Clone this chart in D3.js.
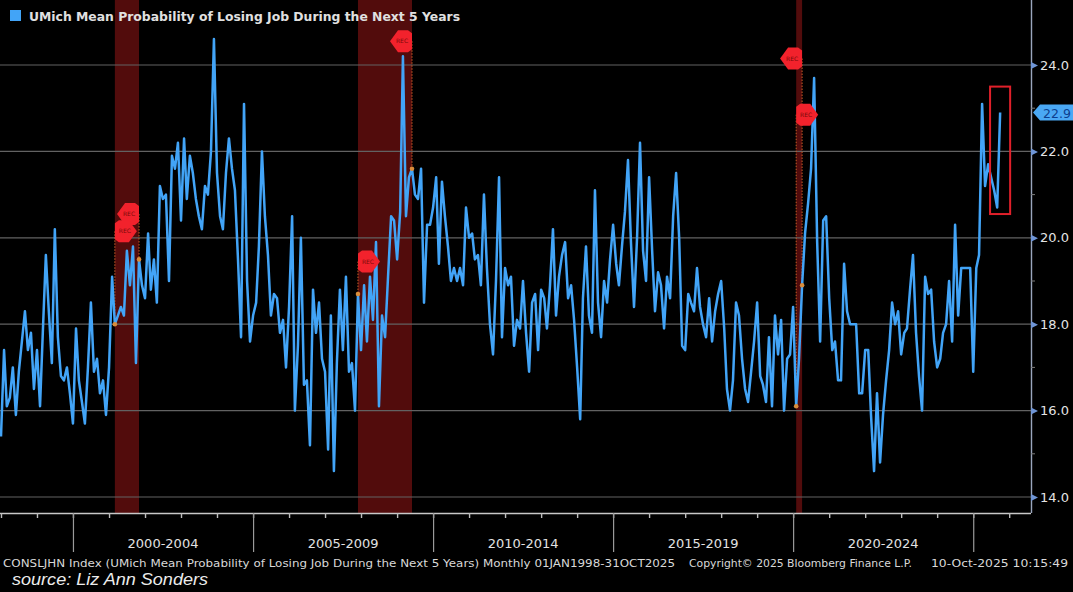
<!DOCTYPE html>
<html>
<head>
<meta charset="utf-8">
<script src="https://cdn.jsdelivr.net/npm/d3@7"></script>
<style>
  html, body { margin: 0; padding: 0; background: #000; }
  svg { display: block; }
</style>
</head>
<body>
<script>
// monthly series, Jan 1998 .. Oct 2025
var startMonth = new Date(1998, 0, 1);
var values = [
  15.4, 17.4, 16.1, 16.3, 17.0, 15.9, 16.9, 17.6, 18.3, 17.4, 17.8, 16.5, // 1998
  17.4, 16.1, 17.8, 19.6, 18.3, 17.1, 20.2, 17.7, 16.8, 16.7, 17.0, 16.4, // 1999
  15.7, 17.9, 16.7, 16.2, 15.7, 17.0, 18.5, 16.9, 17.2, 16.4, 16.7, 15.9, // 2000
  17.0, 19.1, 18.0, 18.2, 18.4, 18.2, 19.7, 18.9, 19.8, 17.1, 19.5, 18.9, // 2001
  18.6, 20.1, 18.8, 19.5, 18.5, 21.2, 20.9, 21.0, 19.0, 21.9, 21.6, 22.2, // 2002
  20.4, 22.3, 20.9, 21.9, 21.5, 20.9, 20.5, 20.2, 21.2, 21.0, 22.0, 24.6, // 2003
  21.5, 20.5, 20.2, 21.5, 22.3, 21.6, 21.1, 19.5, 17.7, 23.1, 19.0, 17.6, // 2004
  18.2, 18.5, 19.8, 22.0, 20.5, 19.6, 18.2, 18.7, 18.6, 17.8, 18.1, 17.0, // 2005
  18.4, 20.5, 16.0, 17.5, 20.0, 16.6, 16.7, 15.2, 18.8, 17.8, 18.5, 17.2, // 2006
  16.9, 15.1, 18.2, 14.6, 17.1, 18.8, 17.4, 19.1, 16.9, 17.1, 16.0, 18.7, // 2007
  17.4, 18.9, 17.6, 19.1, 18.1, 19.9, 16.1, 18.2, 17.7, 19.1, 20.5, 20.4, // 2008
  19.5, 20.6, 24.2, 20.5, 21.4, 21.6, 21.0, 20.9, 21.6, 18.5, 20.3, 20.3, // 2009
  20.7, 21.4, 19.4, 21.3, 20.5, 19.8, 19.0, 19.3, 19.0, 19.3, 18.9, 20.7, // 2010
  20.0, 20.1, 19.5, 19.6, 18.9, 21.0, 19.3, 18.0, 17.3, 19.0, 21.4, 17.7, // 2011
  19.3, 18.9, 19.1, 17.5, 18.1, 17.9, 19.0, 17.8, 16.9, 18.5, 18.7, 17.4, // 2012
  18.8, 18.6, 17.9, 18.9, 20.2, 18.2, 19.1, 19.6, 19.9, 18.6, 18.9, 18.1, // 2013
  17.0, 15.8, 18.6, 19.8, 18.2, 17.8, 21.1, 18.5, 17.7, 19.0, 18.5, 19.5, // 2014
  20.3, 19.4, 18.9, 19.8, 20.6, 21.8, 19.9, 18.4, 20.0, 22.2, 19.7, 19.0, // 2015
  21.4, 19.7, 18.3, 19.2, 18.9, 17.9, 19.1, 18.6, 20.5, 21.5, 20.0, 17.5, // 2016
  17.4, 18.7, 18.5, 18.3, 19.3, 18.4, 18.0, 17.7, 18.6, 17.6, 18.3, 18.7, // 2017
  19.0, 17.9, 16.5, 16.0, 16.7, 18.5, 18.2, 17.2, 16.5, 16.2, 16.9, 17.6, // 2018
  18.5, 16.8, 16.6, 16.2, 17.7, 16.1, 18.2, 17.3, 18.1, 16.0, 17.2, 17.3, // 2019
  18.4, 16.1, 17.2, 18.9, 20.1, 20.8, 21.6, 23.7, 19.9, 17.6, 20.4, 20.5, // 2020
  18.6, 17.4, 17.6, 16.7, 16.7, 19.4, 18.3, 18.0, 18.0, 18.0, 16.4, 16.4, // 2021
  17.4, 17.4, 15.9, 14.6, 16.4, 14.8, 15.9, 16.7, 17.4, 18.5, 18.0, 18.3, // 2022
  17.3, 17.8, 17.9, 18.8, 19.6, 17.8, 16.8, 16.0, 19.1, 18.7, 18.8, 17.6, // 2023
  17.0, 17.2, 17.8, 18.0, 19.0, 17.6, 20.3, 18.2, 19.3, 19.3, 19.3, 19.3, // 2024
  16.9, 19.3, 19.6, 23.1, 21.2, 21.7, 21.4, 21.1, 20.7, 22.9              // 2025
];

var yTicks = [14, 16, 18, 20, 22, 24];
var yMinor = [15, 17, 19, 21, 23];
var periodStarts = [2000, 2005, 2010, 2015, 2020, 2025];
var periodLabels = ["2000-2004", "2005-2009", "2010-2014", "2015-2019", "2020-2024"];

// NBER recessions [start, end]
var recStart = [new Date(2001, 2, 1), new Date(2007, 11, 1), new Date(2020, 1, 1)];
var recEnd   = [new Date(2001, 10, 1), new Date(2009, 5, 1), new Date(2020, 3, 1)];
// REC tags: date, level (in index units), direction
var recTagDate  = [new Date(2001, 10, 1), new Date(2001, 2, 1), new Date(2007, 11, 1), new Date(2009, 5, 1), new Date(2020, 3, 1), new Date(2020, 1, 1)];
var recTagLevel = [20.55, 20.15, 19.45, 24.55, 24.15, 22.85];
var recTagDir   = ["left", "right", "right", "left", "left", "right"];

var lastLabel = "22.9";

var W = 1073, H = 592;
var svg = d3.select("body").append("svg")
  .attr("width", W).attr("height", H)
  .style("background", "#000");

var dates = values.map(function(v, i) { return d3.timeMonth.offset(startMonth, i); });
var data = values.map(function(v, i) { return {date: dates[i], value: v}; });

var x = d3.scaleTime()
  .domain([new Date(1998, 0, 1), new Date(2026, 7, 10)])
  .range([1, 1031]);
var y = d3.scaleLinear().domain([14, 24]).range([497, 65]);

// recession bands
svg.selectAll("rect.rec")
  .data(recStart)
  .enter()
  .append("rect")
  .attr("class", "rec")
  .attr("x", function(d) { return x(d); })
  .attr("y", 0)
  .attr("width", function(d, i) { return Math.max(5, x(recEnd[i]) - x(d)); })
  .attr("height", 513)
  .attr("fill", "#520c0c");

// grid
svg.selectAll("line.grid")
  .data(yTicks)
  .enter()
  .append("line")
  .attr("class", "grid")
  .attr("x1", 0).attr("x2", 1031)
  .attr("y1", function(d) { return y(d); })
  .attr("y2", function(d) { return y(d); })
  .attr("stroke", "#626262")
  .attr("stroke-width", 1.2);

// dotted leader lines from tags to the series
var valueAt = function(dt) {
  var i = d3.bisector(function(d) { return d.date; }).left(data, dt);
  return data[Math.min(i, data.length - 1)].value;
};
svg.selectAll("line.lead")
  .data(recTagDate)
  .enter()
  .append("line")
  .attr("class", "lead")
  .attr("x1", function(d) { return x(d); })
  .attr("x2", function(d) { return x(d); })
  .attr("y1", function(d, i) { return y(recTagLevel[i]); })
  .attr("y2", function(d) { return y(valueAt(d)); })
  .attr("stroke", "#c9602a")
  .attr("stroke-width", 1)
  .attr("stroke-dasharray", "1.5,1.5");

// the series
var line = d3.line()
  .x(function(d) { return x(d.date); })
  .y(function(d) { return y(d.value); });

svg.append("path")
  .datum(data)
  .attr("d", line)
  .attr("fill", "none")
  .attr("stroke", "#42a4f7")
  .attr("stroke-width", 2.5)
  .attr("stroke-linejoin", "round");

// orange dots at recession start/end
svg.selectAll("circle.dot")
  .data(recTagDate)
  .enter()
  .append("circle")
  .attr("class", "dot")
  .attr("cx", function(d) { return x(d); })
  .attr("cy", function(d) { return y(valueAt(d)); })
  .attr("r", 2.3)
  .attr("fill", "#d98c3a");

// REC tags
var tag = svg.selectAll("g.tag")
  .data(recTagDate)
  .enter()
  .append("g")
  .attr("class", "tag")
  .attr("transform", function(d, i) { return "translate(" + x(d) + "," + y(recTagLevel[i]) + ")"; });

tag.append("path")
  .attr("d", function(d, i) {
    if (recTagDir[i] === "right") {
      return "M0,-8 L4,-11 L14,-11 L22,0 L14,11 L4,11 L0,8 Z";
    }
    return "M0,-8 L-4,-11 L-14,-11 L-22,0 L-14,11 L-4,11 L0,8 Z";
  })
  .attr("fill", "#f2222c");

tag.append("text")
  .attr("x", function(d, i) { return recTagDir[i] === "right" ? 10 : -10; })
  .attr("y", 2)
  .attr("text-anchor", "middle")
  .attr("font-family", "DejaVu Sans")
  .attr("font-size", 6)
  .attr("fill", "#7a0a0a")
  .text("REC");

// bottom axis: minor yearly ticks
var years = d3.range(1998, 2027).map(function(yr) { return new Date(yr, 0, 1); });
var xMinor = svg.append("g")
  .attr("transform", "translate(0,513)")
  .call(d3.axisBottom(x).tickValues(years).tickSize(5).tickSizeOuter(0).tickFormat(""));
xMinor.select(".domain").attr("stroke", "#c8c8c8").attr("stroke-width", 1.6)
  .attr("d", "M0,0.5H1031");
xMinor.selectAll(".tick line").attr("stroke", "#bdbdbd").attr("stroke-width", 1.4);

var majors = periodStarts.map(function(yr) { return new Date(yr, 0, 1); });
var xMajor = svg.append("g")
  .attr("transform", "translate(0,513)")
  .call(d3.axisBottom(x).tickValues(majors).tickSize(39).tickSizeOuter(0).tickFormat(""));
xMajor.select(".domain").remove();
xMajor.selectAll(".tick line").attr("stroke", "#9a9a9a").attr("stroke-width", 1.2);

svg.selectAll("text.period")
  .data(periodLabels)
  .enter()
  .append("text")
  .attr("class", "period")
  .attr("x", function(d, i) { return (x(majors[i]) + x(majors[i + 1])) / 2; })
  .attr("y", 548)
  .attr("text-anchor", "middle")
  .attr("font-family", "DejaVu Sans")
  .attr("font-size", 13)
  .attr("fill", "#e2e2e2")
  .text(function(d) { return d; });

// right axis
svg.append("line")
  .attr("x1", 1031.5).attr("x2", 1031.5)
  .attr("y1", 0).attr("y2", 513)
  .attr("stroke", "#9aa6bd")
  .attr("stroke-width", 1.4);

var yAxis = svg.append("g")
  .attr("transform", "translate(1031,0)")
  .call(d3.axisRight(y).tickValues(yTicks).tickSize(0).tickPadding(9)
    .tickFormat(d3.format(".1f")));
yAxis.select(".domain").remove();
yAxis.selectAll(".tick text")
  .attr("font-family", "DejaVu Sans")
  .attr("font-size", 13)
  .attr("fill", "#e4e4e4");
yAxis.selectAll(".tick").append("path")
  .attr("d", "M0,-3.5 L7,0 L0,3.5 Z")
  .attr("fill", "#6f95d6");

svg.selectAll("line.ymin")
  .data(yMinor)
  .enter()
  .append("line")
  .attr("class", "ymin")
  .attr("x1", 1031).attr("x2", 1035)
  .attr("y1", function(d) { return y(d); })
  .attr("y2", function(d) { return y(d); })
  .attr("stroke", "#7d7d7d")
  .attr("stroke-width", 1);

// last value badge
var lastVal = values[values.length - 1];
var badge = svg.append("g")
  .attr("transform", "translate(1033," + y(lastVal) + ")");
badge.append("path")
  .attr("d", "M0,0 L7,-8 L41,-8 L41,8 L7,8 Z")
  .attr("fill", "#4aa8f4");
badge.append("text")
  .attr("x", 24).attr("y", 5)
  .attr("text-anchor", "middle")
  .attr("font-family", "DejaVu Sans")
  .attr("font-size", 12.5)
  .attr("fill", "#0d3f8f")
  .text(lastLabel);

// red highlight box round the latest months
svg.append("rect")
  .attr("x", x(new Date(2025, 6, 1)) - 1)
  .attr("y", y(23.5))
  .attr("width", x(new Date(2025, 9, 1)) - x(new Date(2025, 6, 1)) + 11)
  .attr("height", y(20.55) - y(23.5))
  .attr("fill", "none")
  .attr("stroke", "#e0202a")
  .attr("stroke-width", 2);

// legend
svg.append("rect")
  .attr("x", 10).attr("y", 10)
  .attr("width", 11).attr("height", 11)
  .attr("fill", "#42a4f7");
svg.append("text")
  .attr("x", 29).attr("y", 21)
  .attr("font-family", "DejaVu Sans")
  .attr("font-weight", "bold")
  .attr("font-size", 13)
  .attr("fill", "#e0e0e0")
  .attr("textLength", 431)
  .attr("lengthAdjust", "spacingAndGlyphs")
  .text("UMich Mean Probability of Losing Job During the Next 5 Years");

// footer
var footer = svg.append("g")
  .attr("font-family", "DejaVu Sans")
  .attr("font-size", 11)
  .attr("fill", "#d8d8d8");
footer.append("text")
  .attr("x", 3).attr("y", 567)
  .attr("textLength", 672).attr("lengthAdjust", "spacingAndGlyphs")
  .text("CONSLJHN Index (UMich Mean Probability of Losing Job During the Next 5 Years) Monthly 01JAN1998-31OCT2025");
footer.append("text")
  .attr("x", 689).attr("y", 567)
  .attr("textLength", 223).attr("lengthAdjust", "spacingAndGlyphs")
  .text("Copyright\u00A9 2025 Bloomberg Finance L.P.");
footer.append("text")
  .attr("x", 931).attr("y", 567)
  .attr("textLength", 137).attr("lengthAdjust", "spacingAndGlyphs")
  .text("10-Oct-2025 10:15:49");

svg.append("text")
  .attr("x", 12).attr("y", 585)
  .attr("font-family", "Liberation Sans")
  .attr("font-style", "italic")
  .attr("font-size", 16)
  .attr("fill", "#ececec")
  .attr("textLength", 196)
  .attr("lengthAdjust", "spacingAndGlyphs")
  .text("source: Liz Ann Sonders");
</script>
</body>
</html>
